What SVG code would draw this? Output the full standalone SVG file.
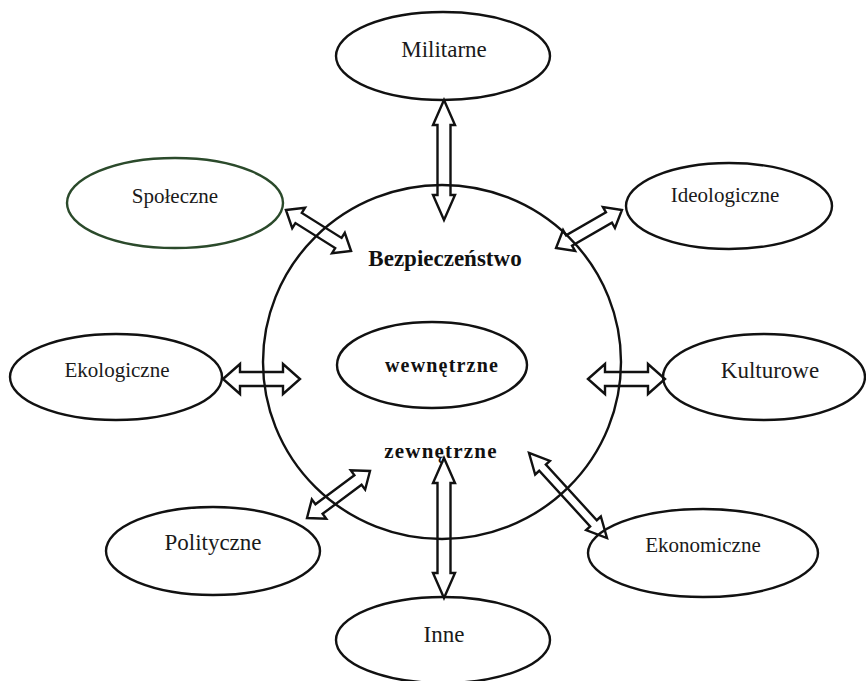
<svg xmlns="http://www.w3.org/2000/svg" width="866" height="681" viewBox="0 0 866 681">
  <style>
    .node { fill: #ffffff; stroke: #111111; stroke-width: 2.4; }
    .green { stroke: #2b4a2b; }
    .lbl { font-family: "Liberation Serif", "Times New Roman", serif; fill: #1a1a1a; text-anchor: middle; }
    .big { font-size: 23px; }
    .mid { font-size: 21px; }
    .bold { font-family: "Liberation Serif", "Times New Roman", serif; font-weight: bold; fill: #111111; text-anchor: middle; }
    .arrow { fill: none; stroke: #111111; stroke-width: 2.4; stroke-linejoin: miter; }
    .ring { fill: none; stroke: #111111; stroke-width: 2.4; }
  </style>
  <rect width="866" height="681" fill="#ffffff"/>

  <g id="center">
    <ellipse class="ring" cx="442" cy="362" rx="179" ry="177"/>
    <text class="bold" x="445" y="266" font-size="23">Bezpieczeństwo</text>
    <text class="bold" x="441" y="458" font-size="21" letter-spacing="1.2">zewnętrzne</text>
  </g>

  <g id="wewnetrzne">
    <ellipse class="node" cx="432" cy="365" rx="95" ry="43"/>
    <text class="bold" x="442" y="372" font-size="20" letter-spacing="1.2">wewnętrzne</text>
  </g>

  <g id="militarne">
    <ellipse class="node" cx="443" cy="56" rx="107" ry="44"/>
    <text class="lbl big" x="444" y="57">Militarne</text>
  </g>

  <g id="spoleczne">
    <ellipse class="node green" cx="175" cy="203" rx="108" ry="45"/>
    <text class="lbl mid" x="175" y="203">Społeczne</text>
  </g>

  <g id="ideologiczne">
    <ellipse class="node" cx="729" cy="206" rx="103" ry="43"/>
    <text class="lbl mid" x="725" y="202">Ideologiczne</text>
  </g>

  <g id="ekologiczne">
    <ellipse class="node" cx="116" cy="377" rx="106" ry="43"/>
    <text class="lbl mid" x="117" y="377">Ekologiczne</text>
  </g>

  <g id="kulturowe">
    <ellipse class="node" cx="764" cy="377" rx="101" ry="43"/>
    <text class="lbl big" x="770" y="378">Kulturowe</text>
  </g>

  <g id="polityczne">
    <ellipse class="node" cx="213" cy="551" rx="107" ry="44"/>
    <text class="lbl big" x="213" y="550">Polityczne</text>
  </g>

  <g id="ekonomiczne">
    <ellipse class="node" cx="703" cy="553" rx="115" ry="44"/>
    <text class="lbl mid" x="703" y="552">Ekonomiczne</text>
  </g>

  <g id="inne">
    <ellipse class="node" cx="443" cy="640" rx="107" ry="43"/>
    <text class="lbl big" x="444" y="642">Inne</text>
  </g>

  <g id="connectors">
    <path class="arrow" transform="translate(444,160) rotate(90)" d="M-60,0 L-35,-11 L-35,-6.5 L35,-6.5 L35,-11 L60,0 L35,11 L35,6.5 L-35,6.5 L-35,11 Z"/>
    <path class="arrow" transform="translate(444,528) rotate(90)" d="M-70,0 L-45,-11 L-45,-6.5 L45,-6.5 L45,-11 L70,0 L45,11 L45,6.5 L-45,6.5 L-45,11 Z"/>
    <path class="arrow" transform="translate(261.5,379)" d="M-38.5,0 L-21.5,-15 L-21.5,-7 L21.5,-7 L21.5,-15 L38.5,0 L21.5,15 L21.5,7 L-21.5,7 L-21.5,15 Z"/>
    <path class="arrow" transform="translate(626.5,379)" d="M-38.5,0 L-21.5,-15 L-21.5,-7 L21.5,-7 L21.5,-15 L38.5,0 L21.5,15 L21.5,7 L-21.5,7 L-21.5,15 Z"/>
    <path class="arrow" transform="translate(318.5,230.5) rotate(32.2)" d="M-38.5,0 L-23.5,-12 L-23.5,-6 L23.5,-6 L23.5,-12 L38.5,0 L23.5,12 L23.5,6 L-23.5,6 L-23.5,12 Z"/>
    <path class="arrow" transform="translate(338.5,494.5) rotate(-36.7)" d="M-39.3,0 L-24.3,-12 L-24.3,-6 L24.3,-6 L24.3,-12 L39.3,0 L24.3,12 L24.3,6 L-24.3,6 L-24.3,12 Z"/>
    <path class="arrow" transform="translate(589,229) rotate(-29.9)" d="M-38,0 L-23,-12 L-23,-6 L23,-6 L23,-12 L38,0 L23,12 L23,6 L-23,6 L-23,12 Z"/>
    <path class="arrow" transform="translate(568,495.5) rotate(47.5)" d="M-57.7,0 L-37.7,-10 L-37.7,-4.5 L37.7,-4.5 L37.7,-10 L57.7,0 L37.7,10 L37.7,4.5 L-37.7,4.5 L-37.7,10 Z"/>
  </g>
</svg>
